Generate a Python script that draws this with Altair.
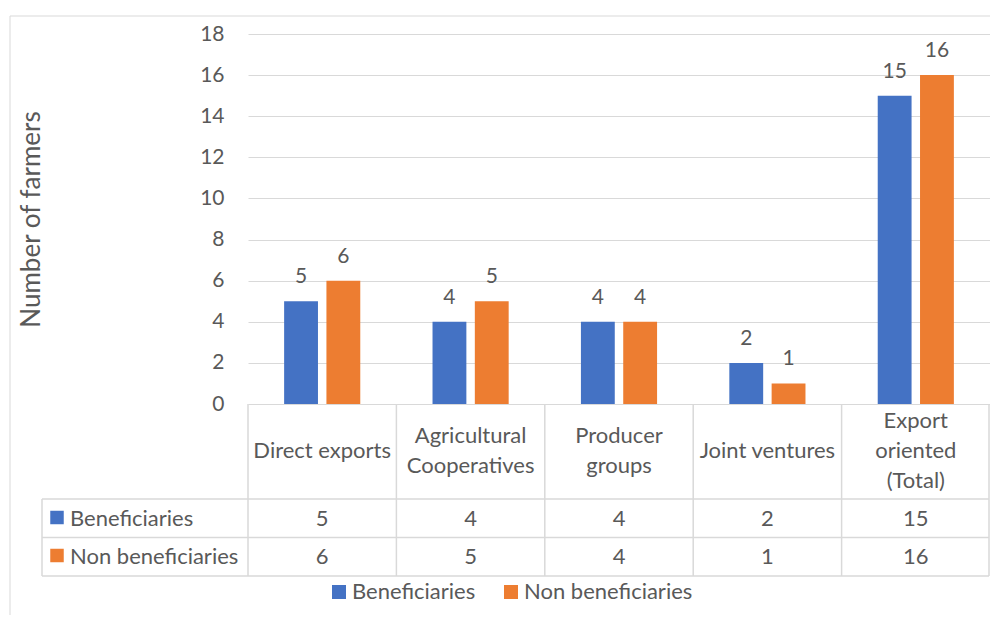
import altair as alt
import pandas as pd

# ---- data ----
categories = ["Direct exports", "Agricultural Cooperatives", "Producer groups",
              "Joint ventures", "Export oriented (Total)"]
header_labels = ["Direct exports", "Agricultural\nCooperatives", "Producer\ngroups",
                 "Joint ventures", "Export\noriented\n(Total)"]
series = ["Beneficiaries", "Non beneficiaries"]
beneficiaries = [5, 4, 4, 2, 15]
non_beneficiaries = [6, 5, 4, 1, 16]
y_ticks = [0, 2, 4, 6, 8, 10, 12, 14, 16, 18]

# ---- style ----
BLUE, ORANGE = "#4472C4", "#ED7D31"
TEXT = "#595959"
GRID = "#D9D9D9"
W, H = 742, 370
FS = 21
TFS = 22
HEADER_Y = 417
LINE_H = 30
ROW_Y = [484.5, 522.5]
LINE_Y = [465, 503.5, 542]
LEFT_X = -206

rows = []
for i, c in enumerate(categories):
    rows.append({"cat": c, "series": series[0], "value": beneficiaries[i]})
    rows.append({"cat": c, "series": series[1], "value": non_beneficiaries[i]})
bars_df = pd.DataFrame(rows)
header_df = pd.DataFrame({"cat": categories, "label": header_labels})
series_df = pd.DataFrame({"series": series})
one = pd.DataFrame({"a": [0]})

x_scale = alt.Scale(paddingInner=0, paddingOuter=0)
x_enc = alt.X("cat:N", sort=categories, axis=None, scale=x_scale)
xoff = alt.XOffset("series:N", sort=series,
                   scale=alt.Scale(paddingInner=0.2, paddingOuter=0.854))
color_scale = alt.Scale(domain=series, range=[BLUE, ORANGE])
leg = alt.Legend(orient="none", legendX=80, legendY=547, direction="horizontal",
                 title=None, symbolType="square", symbolSize=196,
                 symbolStrokeWidth=0, symbolOpacity=1, labelFontSize=TFS,
                 labelColor=TEXT, labelOffset=2, labelLimit=400,
                 columnPadding=24, padding=0)
color_enc = alt.Color("series:N", scale=color_scale, legend=leg)

y_enc = alt.Y("value:Q", scale=alt.Scale(domain=[0, 18], nice=False),
              axis=alt.Axis(values=y_ticks, grid=True, gridColor=GRID, gridWidth=1,
                            domain=False, ticks=False, labelPadding=24,
                            labelFontSize=FS, labelColor=TEXT,
                            title="Number of farmers", titleFontSize=26,
                            titleFontWeight="normal", titleColor=TEXT,
                            titleX=-217, titleY=185, titleBaseline="middle"))

frame = alt.Chart(one).mark_rect(fillOpacity=0, stroke=GRID, strokeWidth=1).encode(
    x=alt.value(-238), x2=alt.value(W + 40), y=alt.value(-18), y2=alt.value(H + 260))

bars = alt.Chart(bars_df).mark_bar().encode(x=x_enc, xOffset=xoff, y=y_enc, color=color_enc)

bar_labels = alt.Chart(bars_df).mark_text(
    baseline="alphabetic", dy=-18, fontSize=FS, color=TEXT).encode(
    x=x_enc, xOffset=xoff, y="value:Q", text="value:Q")

layers = [frame, bars, bar_labels]

# header cells: centre each wrapped label block vertically in the header row
for n in (1, 2, 3):
    layers.append(alt.Chart(header_df).transform_calculate(
        n="length(split(datum.label, '\\n'))").transform_filter(
        alt.datum.n == n).mark_text(
        lineBreak="\n", lineHeight=LINE_H, fontSize=TFS, color=TEXT,
        baseline="middle", dy=-(n - 1) * LINE_H / 2).encode(
        x=x_enc, y=alt.value(HEADER_Y), text="label:N"))

# table grid lines
layers.append(alt.Chart(header_df).mark_rule(color=GRID, strokeWidth=1.5).encode(
    x=alt.X("cat:N", sort=categories, axis=None, scale=x_scale, bandPosition=0),
    y=alt.value(H), y2=alt.value(LINE_Y[2])))
layers.append(alt.Chart(one).mark_rule(color=GRID, strokeWidth=1.5).encode(
    x=alt.value(W - 1), y=alt.value(H), y2=alt.value(LINE_Y[2])))
layers.append(alt.Chart(one).mark_rule(color=GRID, strokeWidth=1.5).encode(
    x=alt.value(LEFT_X), y=alt.value(LINE_Y[0]), y2=alt.value(LINE_Y[2])))
for ly in LINE_Y:
    layers.append(alt.Chart(one).mark_rule(color=GRID, strokeWidth=1.5).encode(
        x=alt.value(LEFT_X), x2=alt.value(W - 1), y=alt.value(ly)))

# table rows
for k, s in enumerate(series):
    layers.append(alt.Chart(bars_df).transform_filter(alt.datum.series == s).mark_text(
        fontSize=TFS, color=TEXT, baseline="middle").encode(
        x=x_enc, y=alt.value(ROW_Y[k]), text="value:Q"))
    layers.append(alt.Chart(series_df).transform_filter(alt.datum.series == s).mark_square(
        size=182, opacity=1).encode(
        x=alt.value(LEFT_X + 15), y=alt.value(ROW_Y[k] - 1), color=color_enc))
    layers.append(alt.Chart(series_df).transform_filter(alt.datum.series == s).mark_text(
        fontSize=TFS, color=TEXT, baseline="middle", align="left").encode(
        x=alt.value(LEFT_X + 28), y=alt.value(ROW_Y[k]), text="series:N"))

chart = alt.layer(*layers).properties(
    width=W, height=H,
    autosize=alt.AutoSizeParams(type="none"),
    padding={"left": 240, "top": 26, "right": 0, "bottom": 211},
).configure(font="Lato", background="white").configure_view(stroke=None)

chart.save("out.html", embed_options={"renderer": "svg", "actions": False})
